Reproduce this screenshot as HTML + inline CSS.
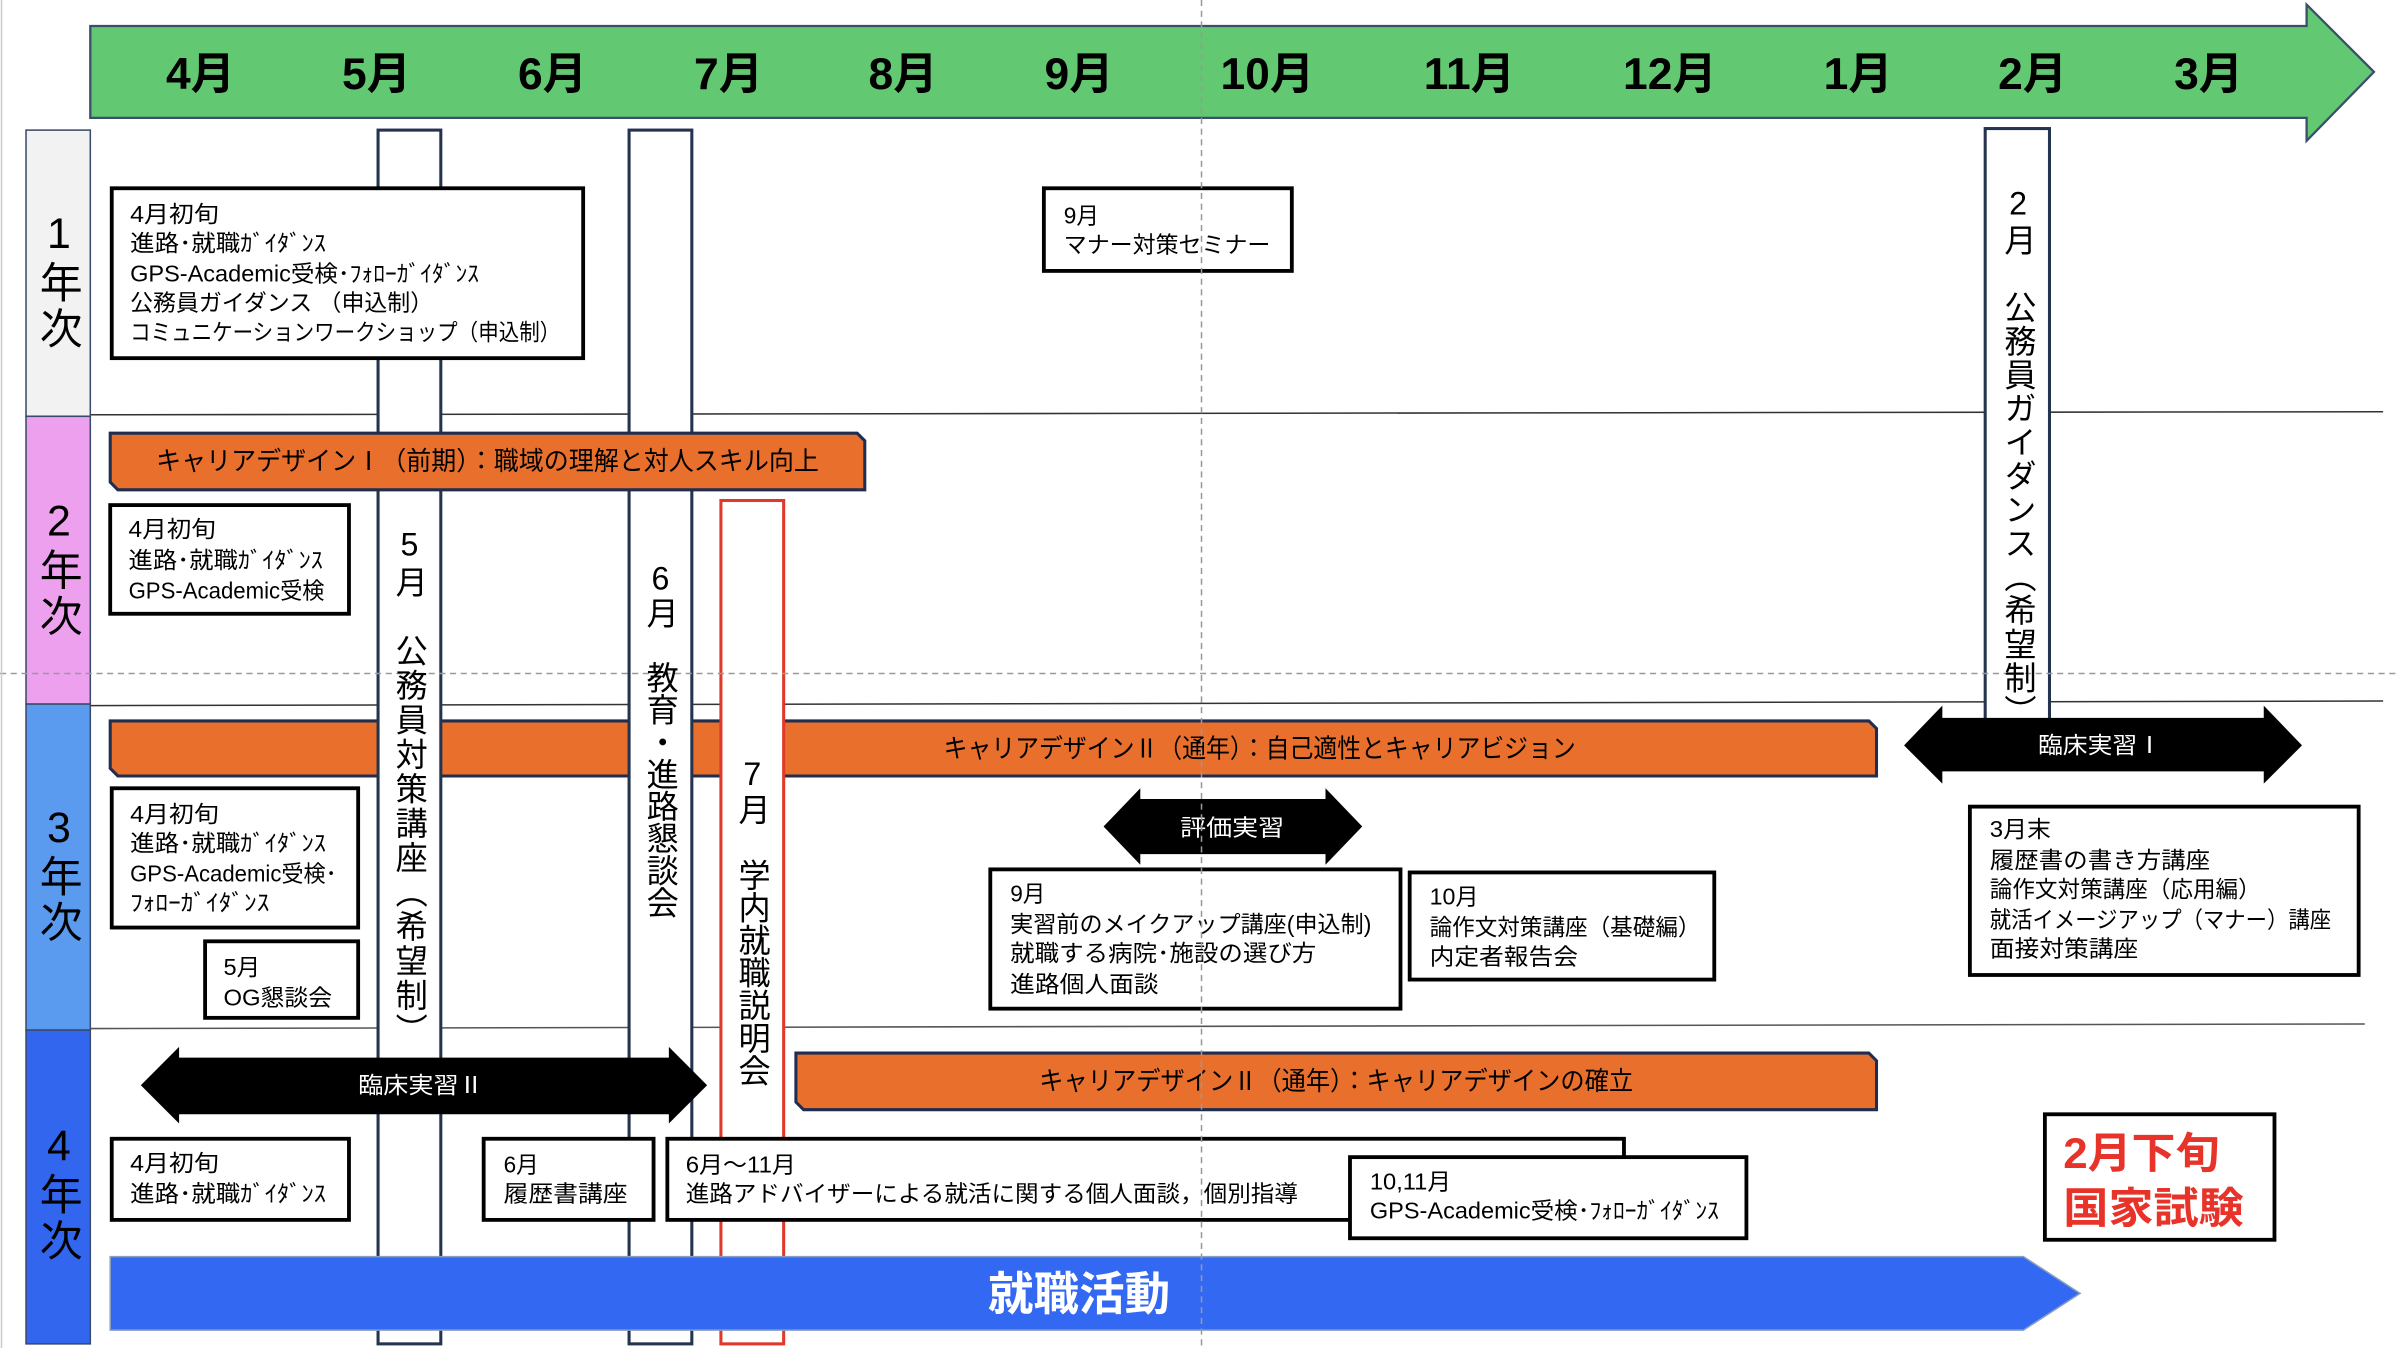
<!DOCTYPE html>
<html><head><meta charset="utf-8">
<style>
html,body{margin:0;padding:0;background:#fff;}
#wrap{position:relative;width:1568px;height:881px;transform:scale(1.5306);transform-origin:0 0;overflow:hidden;}
svg{position:absolute;left:0;top:0;}
text{font-family:"Liberation Sans","Noto Sans CJK JP",sans-serif;}
.v{position:absolute;writing-mode:vertical-rl;text-orientation:upright;font-family:"Liberation Sans","Noto Sans CJK JP",sans-serif;font-size:21px;color:#000;white-space:nowrap;text-align:start;}
.y{position:absolute;left:17px;width:42px;line-height:42px;writing-mode:vertical-rl;text-orientation:upright;font-family:"Liberation Sans","Noto Sans CJK JP",sans-serif;font-size:28px;letter-spacing:2px;}
</style></head><body>
<div id="wrap">
<svg width="1568" height="881" viewBox="0 0 1568 881">
<line x1="59" y1="271" x2="1557" y2="269" stroke="#333" stroke-width="1"/>
<line x1="59" y1="461" x2="1557" y2="458" stroke="#333" stroke-width="1"/>
<line x1="59" y1="672" x2="1545" y2="669" stroke="#555" stroke-width="1"/>
<rect x="17" y="85" width="42" height="187" fill="#f2f2f2" stroke="#3a4a6a" stroke-width="1"/>
<rect x="17" y="272" width="42" height="188" fill="#eda0ee" stroke="#3a4a6a" stroke-width="1"/>
<rect x="17" y="460" width="42" height="213" fill="#5b9bef" stroke="#3a4a6a" stroke-width="1"/>
<rect x="17" y="673" width="42" height="205" fill="#3366ee" stroke="#3a4a6a" stroke-width="1"/>
<polygon points="59,17 1507,17 1507,3 1551,47 1507,92 1507,77 59,77" fill="#63c872" stroke="#3a4f6b" stroke-width="1.5"/>
<g font-size="29" font-weight="bold" text-anchor="middle" fill="#000">
<text x="131" y="58">4月</text><text x="246" y="58">5月</text><text x="361" y="58">6月</text>
<text x="476" y="58">7月</text><text x="590" y="58">8月</text><text x="705" y="58">9月</text>
<text x="828" y="58">10月</text><text x="960" y="58">11月</text><text x="1091" y="58">12月</text>
<text x="1214" y="58">1月</text><text x="1328" y="58">2月</text><text x="1443" y="58">3月</text>
</g>
<polygon points="72,471 1221,471 1226,476 1226,507 77,507 72,502" fill="#e96f2d" stroke="#1f2d50" stroke-width="2"/>
<rect x="247" y="85" width="41" height="793" fill="#fff" stroke="#24344f" stroke-width="2"/>
<rect x="411" y="85" width="41" height="793" fill="#fff" stroke="#24344f" stroke-width="2"/>
<rect x="471" y="327" width="41" height="551" fill="#fff" stroke="#e0382a" stroke-width="2"/>
<rect x="1297" y="84" width="42" height="400" fill="#fff" stroke="#24344f" stroke-width="2"/>
<text x="823" y="495" font-size="17" text-anchor="middle" textLength="413" lengthAdjust="spacingAndGlyphs">キャリアデザインⅡ（通年）：自己適性とキャリアビジョン</text>
<polygon points="72,283 560,283 565,288 565,320 77,320 72,315" fill="#e96f2d" stroke="#1f2d50" stroke-width="2"/>
<text x="102" y="307" font-size="17" textLength="433" lengthAdjust="spacingAndGlyphs">キャリアデザインⅠ（前期）：職域の理解と対人スキル向上</text>
<polygon points="520,688 1221,688 1226,693 1226,725 525,725 520,720" fill="#e96f2d" stroke="#1f2d50" stroke-width="2"/>
<text x="679" y="712" font-size="17" textLength="388" lengthAdjust="spacingAndGlyphs">キャリアデザインⅡ（通年）：キャリアデザインの確立</text>
<g fill="#fff" stroke="#000" stroke-width="2.5">
<rect x="73" y="123" width="308" height="111"/>
<rect x="682" y="123" width="162" height="54"/>
<rect x="72" y="330" width="156" height="71"/>
<rect x="73" y="515" width="161" height="91"/>
<rect x="134" y="615" width="100" height="50"/>
<rect x="647" y="568" width="268" height="91"/>
<rect x="921" y="570" width="199" height="70"/>
<rect x="1287" y="527" width="254" height="110"/>
<rect x="73" y="744" width="155" height="53"/>
<rect x="316" y="744" width="111" height="53"/>
<rect x="436" y="744" width="625" height="53"/>
<rect x="882" y="756" width="259" height="53"/>
<rect x="1336" y="728" width="150" height="82"/>
</g>
<g font-size="15" fill="#000">
<text x="85" y="145" textLength="58" lengthAdjust="spacingAndGlyphs">4月初旬</text>
<text x="85" y="164" textLength="128" lengthAdjust="spacingAndGlyphs">進路･就職ｶﾞｲﾀﾞﾝｽ</text>
<text x="85" y="184" textLength="228" lengthAdjust="spacingAndGlyphs">GPS-Academic受検･ﾌｫﾛｰｶﾞｲﾀﾞﾝｽ</text>
<text x="85" y="203" textLength="198" lengthAdjust="spacingAndGlyphs">公務員ガイダンス （申込制）</text>
<text x="85" y="222" textLength="281" lengthAdjust="spacingAndGlyphs">コミュニケーションワークショップ（申込制）</text>
<text x="695" y="146" textLength="23" lengthAdjust="spacingAndGlyphs">9月</text>
<text x="695" y="165" textLength="135" lengthAdjust="spacingAndGlyphs">マナー対策セミナー</text>
<text x="84" y="351" textLength="57" lengthAdjust="spacingAndGlyphs">4月初旬</text>
<text x="84" y="371" textLength="127" lengthAdjust="spacingAndGlyphs">進路･就職ｶﾞｲﾀﾞﾝｽ</text>
<text x="84" y="391" textLength="128" lengthAdjust="spacingAndGlyphs">GPS-Academic受検</text>
<text x="85" y="537" textLength="58" lengthAdjust="spacingAndGlyphs">4月初旬</text>
<text x="85" y="556" textLength="128" lengthAdjust="spacingAndGlyphs">進路･就職ｶﾞｲﾀﾞﾝｽ</text>
<text x="85" y="576" textLength="135" lengthAdjust="spacingAndGlyphs">GPS-Academic受検･</text>
<text x="85" y="595" textLength="91" lengthAdjust="spacingAndGlyphs">ﾌｫﾛｰｶﾞｲﾀﾞﾝｽ</text>
<text x="146" y="637" textLength="24" lengthAdjust="spacingAndGlyphs">5月</text>
<text x="146" y="657" textLength="71" lengthAdjust="spacingAndGlyphs">OG懇談会</text>
<text x="660" y="589" textLength="23" lengthAdjust="spacingAndGlyphs">9月</text>
<text x="660" y="609" textLength="236" lengthAdjust="spacingAndGlyphs">実習前のメイクアップ講座(申込制)</text>
<text x="660" y="628" textLength="200" lengthAdjust="spacingAndGlyphs">就職する病院･施設の選び方</text>
<text x="660" y="648" textLength="97" lengthAdjust="spacingAndGlyphs">進路個人面談</text>
<text x="934" y="591" textLength="32" lengthAdjust="spacingAndGlyphs">10月</text>
<text x="934" y="611" textLength="177" lengthAdjust="spacingAndGlyphs">論作文対策講座（基礎編）</text>
<text x="934" y="630" textLength="97" lengthAdjust="spacingAndGlyphs">内定者報告会</text>
<text x="1300" y="547" textLength="40" lengthAdjust="spacingAndGlyphs">3月末</text>
<text x="1300" y="567" textLength="144" lengthAdjust="spacingAndGlyphs">履歴書の書き方講座</text>
<text x="1300" y="586" textLength="177" lengthAdjust="spacingAndGlyphs">論作文対策講座（応用編）</text>
<text x="1300" y="606" textLength="223" lengthAdjust="spacingAndGlyphs">就活イメージアップ（マナー）講座</text>
<text x="1300" y="625" textLength="97" lengthAdjust="spacingAndGlyphs">面接対策講座</text>
<text x="85" y="765" textLength="58" lengthAdjust="spacingAndGlyphs">4月初旬</text>
<text x="85" y="785" textLength="128" lengthAdjust="spacingAndGlyphs">進路･就職ｶﾞｲﾀﾞﾝｽ</text>
<text x="329" y="766" textLength="23" lengthAdjust="spacingAndGlyphs">6月</text>
<text x="329" y="785" textLength="81" lengthAdjust="spacingAndGlyphs">履歴書講座</text>
<text x="448" y="766" textLength="72" lengthAdjust="spacingAndGlyphs">6月～11月</text>
<text x="448" y="785" textLength="400" lengthAdjust="spacingAndGlyphs">進路アドバイザーによる就活に関する個人面談，個別指導</text>
<text x="895" y="777" textLength="53" lengthAdjust="spacingAndGlyphs">10,11月</text>
<text x="895" y="796" textLength="228" lengthAdjust="spacingAndGlyphs">GPS-Academic受検･ﾌｫﾛｰｶﾞｲﾀﾞﾝｽ</text>
</g>
<g font-size="28" font-weight="bold" fill="#e8332a">
<text x="1348" y="763" textLength="102" lengthAdjust="spacingAndGlyphs">2月下旬</text>
<text x="1348" y="799" textLength="118" lengthAdjust="spacingAndGlyphs">国家試験</text>
</g>
<polygon points="92,709 117,684 117,691 437,691 437,684 462,709 437,734 437,728 117,728 117,734" fill="#000"/>
<text x="275" y="714" font-size="15" fill="#fff" text-anchor="middle" textLength="82" lengthAdjust="spacingAndGlyphs">臨床実習Ⅱ</text>
<polygon points="1244,487 1269,461 1269,469 1479,469 1479,461 1504,487 1479,512 1479,504 1269,504 1269,512" fill="#000"/>
<text x="1372" y="492" font-size="15" fill="#fff" text-anchor="middle" textLength="81" lengthAdjust="spacingAndGlyphs">臨床実習Ⅰ</text>
<polygon points="721,540 745,515 745,522 866,522 866,515 890,540 866,565 866,558 745,558 745,565" fill="#000"/>
<text x="805" y="546" font-size="15" fill="#fff" text-anchor="middle" textLength="68" lengthAdjust="spacingAndGlyphs">評価実習</text>
<polygon points="72,821 1322,821 1359,845 1322,869 72,869" fill="#3368f2" stroke="#8aa0c0" stroke-width="1"/>
<text x="705" y="856" font-size="30" font-weight="bold" fill="#fff" text-anchor="middle" textLength="119" lengthAdjust="spacingAndGlyphs">就職活動</text>
<line x1="785" y1="0" x2="785" y2="881" stroke="#999" stroke-width="1" stroke-dasharray="4,3"/>
<line x1="0" y1="440" x2="1568" y2="440" stroke="#999" stroke-width="1" stroke-dasharray="4,3"/>
<line x1="1" y1="0" x2="1" y2="881" stroke="#ccc" stroke-width="1"/>
</svg>
<div class="v" style="left:247px;top:345px;width:41px;line-height:41px;letter-spacing:1.5px;">5月　公務員対策講座（希望制）</div>
<div class="v" style="left:411px;top:367px;width:41px;line-height:41px;letter-spacing:0px;">6月　教育・進路懇談会</div>
<div class="v" style="left:471px;top:495px;width:41px;line-height:41px;letter-spacing:0.3px;">7月　学内就職説明会</div>
<div class="v" style="left:1297px;top:122px;width:42px;line-height:42px;letter-spacing:1px;">2月　公務員ガイダンス（希望制）</div>
<div class="y" style="top:137px;">1年次</div>
<div class="y" style="top:325px;">2年次</div>
<div class="y" style="top:525px;">3年次</div>
<div class="y" style="top:733px;">4年次</div>
</div>
</body></html>
